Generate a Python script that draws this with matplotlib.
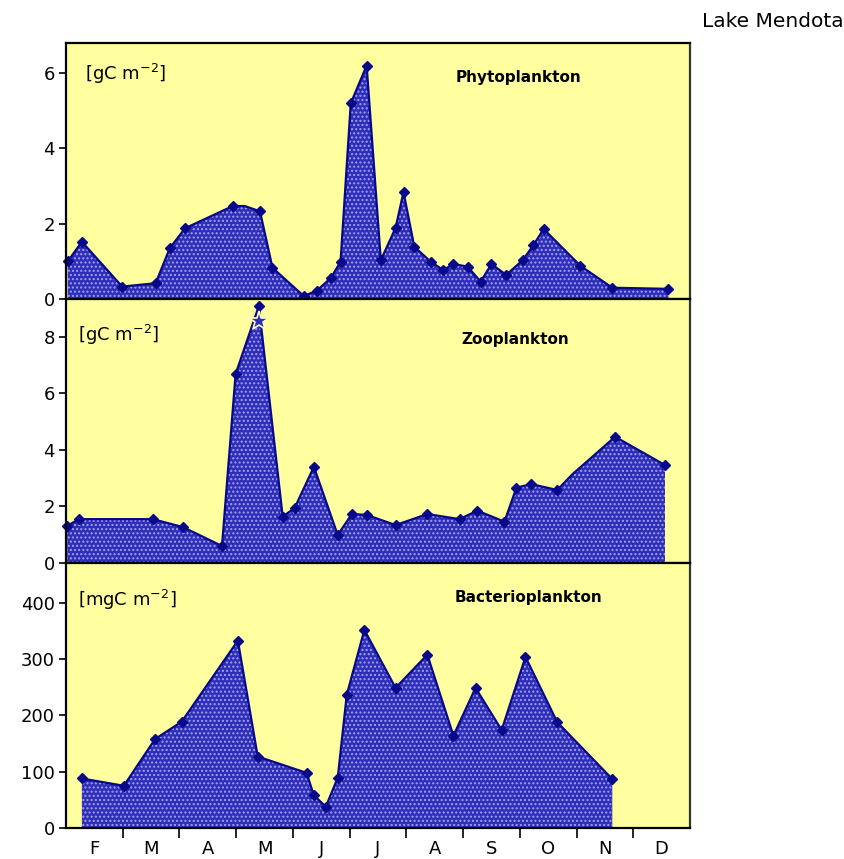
import matplotlib
matplotlib.use("Agg")
import matplotlib.pyplot as plt
from matplotlib.ticker import FixedLocator, NullFormatter

# x positions in months since 1 Feb (0 = 1 Feb, 11 = 31 Dec)
MONTHS = ["F", "M", "A", "M", "J", "J", "A", "S", "O", "N", "D"]

phyto_x = [0.03, 0.28, 0.99, 1.58, 1.83, 2.10, 2.94, 3.15, 3.42, 3.64, 4.19,
           4.42, 4.67, 4.84, 5.02, 5.30, 5.55, 5.81, 5.95, 6.14, 6.43, 6.65,
           6.83, 7.08, 7.31, 7.50, 7.76, 8.05, 8.24, 8.42, 9.07, 9.63, 10.62]
phyto_y = [1.00, 1.52, 0.33, 0.42, 1.35, 1.88, 2.47, 2.47, 2.33, 0.83, 0.08,
           0.22, 0.56, 0.99, 5.20, 6.20, 1.03, 1.89, 2.84, 1.39, 0.99, 0.77,
           0.93, 0.86, 0.46, 0.93, 0.64, 1.03, 1.43, 1.86, 0.88, 0.30, 0.27]
phyto_nomark = [7]

zoo_x = [0.02, 0.23, 1.53, 2.06, 2.75, 2.99, 3.40, 3.82, 4.03, 4.37, 4.79,
         5.04, 5.30, 5.81, 6.37, 6.94, 7.25, 7.73, 7.94, 8.20, 8.66, 8.93,
         9.68, 10.56]
zoo_y = [1.31, 1.55, 1.55, 1.27, 0.60, 6.68, 9.08, 1.64, 1.94, 3.40, 0.99,
         1.73, 1.70, 1.34, 1.73, 1.55, 1.85, 1.46, 2.66, 2.79, 2.58, 3.14,
         4.46, 3.46]
zoo_nomark = [21]
zoo_star = (3.40, 8.55)

bact_x = [0.28, 1.02, 1.57, 2.04, 3.03, 3.38, 4.24, 4.37, 4.58, 4.79, 4.95,
          5.26, 5.81, 6.37, 6.83, 7.22, 7.68, 8.10, 8.66, 9.63]
bact_y = [88, 75, 158, 189, 333, 127, 98, 58, 38, 89, 237,
          352, 249, 308, 164, 249, 174, 304, 188, 87]
bact_nomark = []

BG = "#FFFFA0"
FILL = "#2E2EB8"
LINE = "#08088A"

plt.rcParams["font.family"] = ["DejaVu Sans"]
plt.rcParams["hatch.linewidth"] = 1.0

fig = plt.figure(figsize=(8.44, 8.59), dpi=100)
L, W = 0.0782, 0.7393
panels = [
    dict(rect=[L, 0.6519, W, 0.2980], x=phyto_x, y=phyto_y, skip=phyto_nomark,
         ylim=6.8, yticks=[0, 2, 4, 6], unit="[gC m$^{-2}$]",
         name="Phytoplankton", upos=(0.03, 0.88), npos=(0.725, 0.865)),
    dict(rect=[L, 0.3446, W, 0.3073], x=zoo_x, y=zoo_y, skip=zoo_nomark,
         ylim=9.33, yticks=[0, 2, 4, 6, 8], unit="[gC m$^{-2}$]",
         name="Zooplankton", upos=(0.02, 0.865), npos=(0.72, 0.845)),
    dict(rect=[L, 0.0361, W, 0.3085], x=bact_x, y=bact_y, skip=bact_nomark,
         ylim=471, yticks=[0, 100, 200, 300, 400], unit="[mgC m$^{-2}$]",
         name="Bacterioplankton", upos=(0.02, 0.86), npos=(0.742, 0.868)),
]

axes = []
for i, p in enumerate(panels):
    ax = fig.add_axes(p["rect"])
    ax.set_facecolor(BG)
    ax.fill_between(p["x"], p["y"], 0, facecolor=FILL, edgecolor="#A0A0F0",
                    hatch="....", linewidth=0, zorder=2)
    marks = [k for k in range(len(p["x"])) if k not in p["skip"]]
    ax.plot(p["x"], p["y"], color=LINE, linewidth=1.6, marker="D",
            markersize=5, markevery=marks, zorder=3, clip_on=False)
    ax.set_xlim(0, 11)
    ax.set_ylim(0, p["ylim"])
    ax.set_yticks(p["yticks"])
    ax.tick_params(axis="y", direction="out", length=5, width=1.2,
                   labelsize=13, pad=3)
    for s in ax.spines.values():
        s.set_linewidth(1.6)
        s.set_zorder(5)
    ax.spines["right"].set_color("#333333")
    ax.text(*p["upos"], p["unit"], transform=ax.transAxes, fontsize=13,
            va="center", ha="left", zorder=6)
    ax.text(*p["npos"], p["name"], transform=ax.transAxes, fontsize=11,
            fontweight="bold", va="center", ha="center", zorder=6)
    if i < 2:
        ax.set_xticks([])
    else:
        ax.xaxis.set_major_locator(FixedLocator(range(1, 11)))
        ax.xaxis.set_major_formatter(NullFormatter())
        ax.xaxis.set_minor_locator(FixedLocator([k + 0.5 for k in range(11)]))
        ax.set_xticklabels(MONTHS, minor=True)
        ax.tick_params(axis="x", which="major", direction="out", length=7,
                       width=1.2)
        ax.tick_params(axis="x", which="minor", length=0, labelsize=13, pad=9)
    axes.append(ax)

axes[1].plot(*zoo_star, marker="*", markersize=15, markerfacecolor=FILL,
             markeredgecolor="#FFFFC0", markeredgewidth=1.2, zorder=4)

fig.text(0.999, 0.975, "Lake Mendota", fontsize=14.5, ha="right", va="center")

fig.savefig("out.png", dpi=100)
